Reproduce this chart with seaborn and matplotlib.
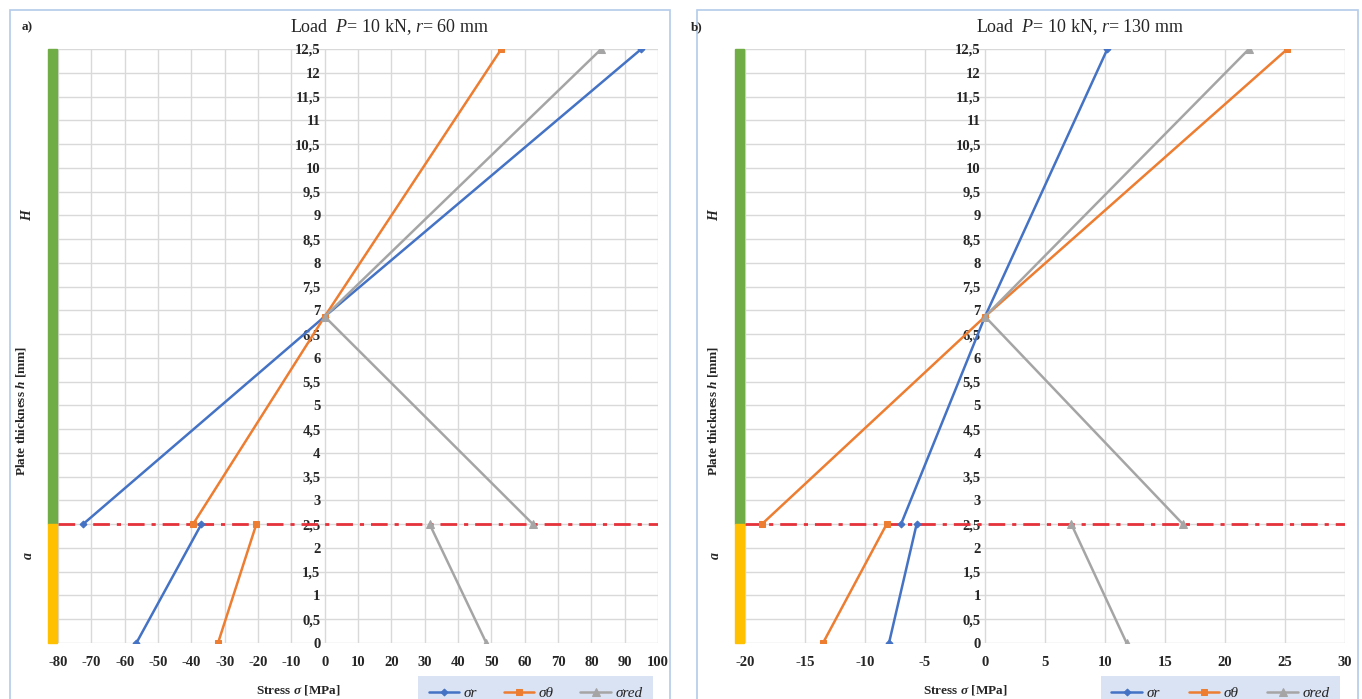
import numpy as np
import seaborn as sns
import matplotlib.pyplot as plt
from matplotlib.patches import Rectangle
from matplotlib.ticker import FuncFormatter, MultipleLocator

sns.set_style('white')
plt.rcParams['font.family'] = ['Liberation Serif', 'DejaVu Serif']
plt.rcParams['axes.unicode_minus'] = False
plt.rcParams['mathtext.fontset'] = 'custom'
plt.rcParams['mathtext.rm'] = 'Liberation Serif'
plt.rcParams['mathtext.it'] = 'Liberation Serif:italic'
plt.rcParams['mathtext.bf'] = 'Liberation Serif:bold'
plt.rcParams['mathtext.bfit'] = 'Liberation Serif:italic:bold'

# 厚度坐标 (mm)
h_lower = [0, 2.5]
h_upper = [2.5, 6.87, 12.5]
layer_a = 2.5
plate_H = 12.5

# a) r = 60 mm
a_sr_lower = [-56.5, -37]
a_sr_upper = [-72.5, 0, 95]
a_st_lower = [-32, -20.5]
a_st_upper = [-39.5, 0, 53]
a_sred_lower = [48.5, 31.5]
a_sred_upper = [62.5, 0, 83]

# b) r = 130 mm
b_sr_lower = [-8.0, -5.7]
b_sr_upper = [-7.0, 0, 10.2]
b_st_lower = [-13.5, -8.2]
b_st_upper = [-18.6, 0, 25.2]
b_sred_lower = [11.8, 7.2]
b_sred_upper = [16.5, 0, 22]

names = ['σr', 'σθ', 'σred']
colors = ['#4472C4', '#ED7D31', '#A5A5A5']
markers = ['D', 's', '^']
msizes = [3.5, 5, 5.5]

fig = plt.figure(figsize=(13.62, 6.99), dpi=100)

# 外框
fig.patches.append(Rectangle((0.0073, -0.01), 0.4846, 0.9957, transform=fig.transFigure,
                             fill=False, edgecolor='#B4CBEA', lw=1.2))
fig.patches.append(Rectangle((0.5117, -0.01), 0.4853, 0.9957, transform=fig.transFigure,
                             fill=False, edgecolor='#B4CBEA', lw=1.2))


def panel(ax, lower, upper, xlim, xstep, tag, title, tag_x, title_x, xlab_x, leg_x):
    for i in range(3):
        sns.lineplot(x=lower[i], y=h_lower, sort=False, estimator=None, ax=ax,
                     color=colors[i], lw=1.8, marker=markers[i], markersize=msizes[i],
                     markeredgecolor=colors[i], label=names[i], zorder=4)
        sns.lineplot(x=upper[i], y=h_upper, sort=False, estimator=None, ax=ax,
                     color=colors[i], lw=1.8, marker=markers[i], markersize=msizes[i],
                     markeredgecolor=colors[i], zorder=4)
    ax.axhline(layer_a, color='#E5323B', lw=2, ls=(0, (6, 2.5, 1.5, 2.5)), zorder=3)

    # 左侧分层色条
    tr = ax.get_yaxis_transform()
    ax.add_patch(Rectangle((-0.016, layer_a), 0.015, plate_H - layer_a, transform=tr,
                           color='#70AD47', clip_on=False, zorder=5))
    ax.add_patch(Rectangle((-0.016, 0), 0.015, layer_a, transform=tr,
                           color='#FFC000', clip_on=False, zorder=5))
    ax.text(-0.05, 9.0, 'H', transform=tr, rotation=90, style='italic', fontweight='bold',
            fontsize=10, ha='center', va='center')
    ax.text(-0.05, 1.85, 'a', transform=tr, rotation=90, style='italic', fontweight='bold',
            fontsize=10, ha='center', va='center')

    ax.set_xlim(*xlim)
    ax.set_ylim(0, plate_H)
    ax.xaxis.set_major_locator(MultipleLocator(xstep))
    ax.yaxis.set_major_locator(MultipleLocator(0.5))
    ax.xaxis.set_major_formatter(FuncFormatter(lambda v, p: f'{v:g}'))
    ax.yaxis.set_major_formatter(FuncFormatter(lambda v, p: f'{v:g}'.replace('.', ',')))
    ax.grid(True, color='#D9D9D9', lw=1)
    ax.set_axisbelow(True)
    for s in ax.spines.values():
        s.set_visible(False)
    ax.spines['left'].set_position(('data', 0))
    ax.tick_params(axis='both', length=0, labelsize=10.5)
    ax.tick_params(axis='x', pad=9)
    ax.tick_params(axis='y', pad=3)
    for lab in ax.get_xticklabels() + ax.get_yticklabels():
        lab.set_fontweight('bold')

    ax.set_xlabel(r'Stress $\mathbfit{σ}$ [MPa]', fontsize=9.5, fontweight='bold')
    ax.xaxis.set_label_coords(xlab_x, -0.067)
    ax.set_ylabel(r'Plate thickness $\mathbfit{h}$ [mm]', fontsize=9.5, fontweight='bold')
    ax.yaxis.set_label_coords(-0.05, 0.39)

    fig.text(tag_x, 0.961, tag, fontsize=9.5, fontweight='bold', ha='left', va='center')
    fig.text(title_x, 0.961, title, fontsize=13, ha='center', va='center')

    handles, labels = ax.get_legend_handles_labels()
    leg = ax.legend(handles[:3], labels[:3], ncol=3, loc='upper left',
                    bbox_to_anchor=(leg_x, -0.042, 1.0 - leg_x + 0.005, 0.0), mode='expand',
                    frameon=True, fancybox=False, facecolor='#DAE3F3', edgecolor='none',
                    framealpha=1, borderpad=0.7, handlelength=2.0, handletextpad=0.3,
                    prop={'family': 'Liberation Serif', 'style': 'italic', 'size': 11})
    leg.set_clip_on(False)


ax_a = fig.add_axes([0.0426, 0.0801, 0.4405, 0.8498])
ax_b = fig.add_axes([0.547, 0.0801, 0.4405, 0.8498])

panel(ax_a, [a_sr_lower, a_st_lower, a_sred_lower], [a_sr_upper, a_st_upper, a_sred_upper],
      (-80, 100), 10, 'a)', r'Load  $\mathit{P}$= 10 kN, $\mathit{r}$= 60 mm',
      0.016, 0.286, 0.40, 0.587)
panel(ax_b, [b_sr_lower, b_st_lower, b_sred_lower], [b_sr_upper, b_st_upper, b_sred_upper],
      (-20, 30), 5, 'b)', r'Load  $\mathit{P}$= 10 kN, $\mathit{r}$= 130 mm',
      0.507, 0.793, 0.367, 0.58)
ax_b.yaxis.set_label_coords(-0.042, 0.39)

fig.savefig('out.png', dpi=100)
